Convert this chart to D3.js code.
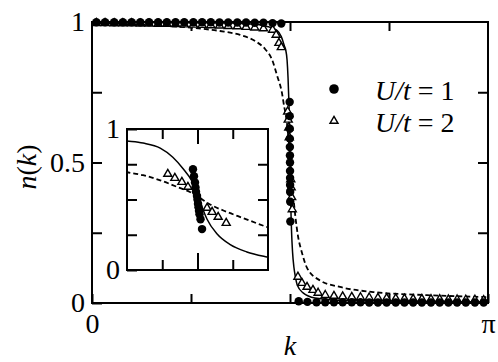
<!DOCTYPE html>
<html>
<head>
<meta charset="utf-8">
<title>n(k)</title>
<script src="https://d3js.org/d3.v7.min.js"></script>
<style>
  body { margin: 0; background: #fff; }
  svg text { font-family: "Liberation Serif", "Times New Roman", Times, Tinos, "Noto Serif", "DejaVu Serif", FreeSerif, serif; }
</style>
</head>
<body>
<svg width="498" height="362"></svg>
<script>

// k is in units of pi, n(k) is the occupation
var u1Points = [ // filled circles, U/t = 1
  [0.011, 0.999], [0.033, 0.999], [0.056, 0.999], [0.078, 0.999], [0.100, 0.999],
  [0.122, 0.999], [0.144, 0.999], [0.167, 0.999], [0.189, 0.999], [0.211, 0.999],
  [0.233, 0.999], [0.256, 0.999], [0.278, 0.999], [0.300, 0.999], [0.322, 0.998],
  [0.344, 0.998], [0.367, 0.998], [0.389, 0.998], [0.411, 0.997], [0.433, 0.997],
  [0.456, 0.996], [0.478, 0.995],
  [0.4991, 0.715], [0.4993, 0.665], [0.4995, 0.62], [0.4996, 0.585], [0.4997, 0.555],
  [0.4999, 0.525], [0.5000, 0.50], [0.5001, 0.47], [0.5002, 0.445], [0.5003, 0.42],
  [0.5004, 0.395], [0.5006, 0.36], [0.5009, 0.29],
  [0.522, 0.006], [0.544, 0.004], [0.567, 0.003], [0.589, 0.003], [0.611, 0.003],
  [0.633, 0.003], [0.656, 0.003], [0.678, 0.003], [0.700, 0.002], [0.722, 0.002],
  [0.744, 0.002], [0.767, 0.002], [0.789, 0.002], [0.811, 0.002], [0.833, 0.002],
  [0.856, 0.002], [0.878, 0.002], [0.900, 0.002], [0.922, 0.002], [0.944, 0.002],
  [0.967, 0.002], [0.989, 0.002]
];

var u2Points = [ // open triangles, U/t = 2
  [0.011, 0.996], [0.033, 0.996], [0.056, 0.995], [0.078, 0.995], [0.100, 0.995],
  [0.122, 0.994], [0.144, 0.994], [0.167, 0.993], [0.189, 0.993], [0.211, 0.992],
  [0.233, 0.991], [0.256, 0.990], [0.278, 0.989], [0.300, 0.988], [0.322, 0.987],
  [0.344, 0.985], [0.367, 0.984], [0.389, 0.982], [0.411, 0.980], [0.433, 0.977],
  [0.456, 0.972], [0.465, 0.954], [0.472, 0.925], [0.478, 0.910],
  [0.4941, 0.681], [0.4955, 0.652], [0.4969, 0.624], [0.4981, 0.589],
  [0.5019, 0.440], [0.5029, 0.411], [0.5041, 0.376], [0.5057, 0.333],
  [0.520, 0.093], [0.530, 0.071], [0.543, 0.057], [0.558, 0.046], [0.571, 0.036],
  [0.589, 0.028], [0.611, 0.025], [0.633, 0.023], [0.656, 0.021], [0.678, 0.020],
  [0.700, 0.019], [0.722, 0.018], [0.744, 0.017], [0.767, 0.016], [0.789, 0.015],
  [0.811, 0.014], [0.833, 0.014], [0.856, 0.013], [0.878, 0.013], [0.900, 0.012],
  [0.922, 0.012], [0.944, 0.011], [0.967, 0.011], [0.989, 0.010]
];

var solidLine = [
  [0, 0.998], [0.30, 0.997], [0.40, 0.993], [0.44, 0.985], [0.467, 0.970],
  [0.478, 0.948], [0.4858, 0.915], [0.4892, 0.90], [0.4926, 0.865], [0.4951, 0.80],
  [0.4971, 0.72], [0.4989, 0.63], [0.4999, 0.55], [0.5009, 0.447], [0.5019, 0.36],
  [0.5039, 0.255], [0.5065, 0.18], [0.5098, 0.128], [0.5138, 0.092], [0.518, 0.065],
  [0.533, 0.036], [0.563, 0.018], [0.652, 0.008], [1, 0.004]
];

var dashedLine = [
  [0, 0.996], [0.146, 0.989], [0.255, 0.979], [0.323, 0.968], [0.374, 0.954],
  [0.412, 0.932], [0.437, 0.904], [0.455, 0.865], [0.467, 0.811], [0.4798, 0.747],
  [0.4858, 0.695], [0.4892, 0.672], [0.4926, 0.636], [0.4959, 0.590], [0.4985, 0.553],
  [0.5001, 0.52], [0.5025, 0.465], [0.5059, 0.411], [0.5090, 0.369], [0.5138, 0.305],
  [0.520, 0.24], [0.530, 0.18], [0.543, 0.125], [0.576, 0.08], [0.626, 0.057],
  [0.710, 0.039], [0.846, 0.028], [1, 0.021]
];

var xTicks = [0, 0.25, 0.5, 0.75, 1];
var yTicks = [0, 0.25, 0.5, 0.75, 1];
var insetDomain = [0.486, 0.514];
var insetXTicks = [0.493, 0.5, 0.507];
var legendValues = ["1", "2"];

var config = {
  left: 92, right: 488, top: 22, bottom: 303,
  inset: { left: 127, right: 268, top: 129, bottom: 270 },
  font: 28,
  serif: '"Liberation Serif", "Times New Roman", Times, Tinos, "Noto Serif", "DejaVu Serif", FreeSerif, serif'
};

var svg = d3.select("svg");

var x = d3.scaleLinear().domain([0, 1]).range([config.left, config.right]);
var y = d3.scaleLinear().domain([0, 1]).range([config.bottom, config.top]);

var xi = d3.scaleLinear().domain(insetDomain).range([config.inset.left, config.inset.right]);
var yi = d3.scaleLinear().domain([0, 1]).range([config.inset.bottom, config.inset.top]);

var circleSym = d3.symbol().type(d3.symbolCircle).size(56);
var triSym = d3.symbol().type(d3.symbolTriangle).size(28);

function fixAxis(g) {
  g.select(".domain").remove();
  g.attr("font-size", config.font).attr("font-family", config.serif);
  g.selectAll(".tick line").attr("stroke", "#000").attr("stroke-width", 2);
  g.selectAll(".tick text").attr("fill", "#000").style("font-family", config.serif);
}

function drawSeries(g, xs, ys) {
  var line = d3.line()
    .x(function(d) { return xs(d[0]); })
    .y(function(d) { return ys(d[1]); })
    .curve(d3.curveMonotoneX);

  g.append("path").datum(dashedLine)
    .attr("d", line).attr("fill", "none").attr("stroke", "#000")
    .attr("stroke-width", 1.8).attr("stroke-dasharray", "5,3");

  g.append("path").datum(solidLine)
    .attr("d", line).attr("fill", "none").attr("stroke", "#000")
    .attr("stroke-width", 1.5);

  g.selectAll(".t").data(u2Points).enter().append("path")
    .attr("transform", function(d) { return "translate(" + xs(d[0]) + "," + ys(d[1]) + ")"; })
    .attr("d", triSym).attr("fill", "#fff").attr("stroke", "#000").attr("stroke-width", 1.4);

  g.selectAll(".c").data(u1Points).enter().append("path")
    .attr("transform", function(d) { return "translate(" + xs(d[0]) + "," + ys(d[1]) + ")"; })
    .attr("d", circleSym).attr("fill", "#000");
}

// main frame
svg.append("rect")
  .attr("x", config.left).attr("y", config.top)
  .attr("width", config.right - config.left).attr("height", config.bottom - config.top)
  .attr("fill", "none").attr("stroke", "#000").attr("stroke-width", 2);

// main axes (ticks point inward)
svg.append("g").attr("transform", "translate(" + config.left + ",0)")
  .call(d3.axisLeft(y).tickValues(yTicks).tickSizeInner(-10).tickSizeOuter(0).tickPadding(7)
    .tickFormat(function(d) { return (d === 0.25 || d === 0.75) ? "" : String(d); }))
  .call(fixAxis);

svg.append("g").attr("transform", "translate(" + config.right + ",0)")
  .call(d3.axisRight(y).tickValues([0.25, 0.5, 0.75]).tickSizeInner(-10).tickSizeOuter(0).tickFormat(""))
  .call(fixAxis);

svg.append("g").attr("transform", "translate(0," + config.top + ")")
  .call(d3.axisTop(x).tickValues([0.25, 0.5, 0.75]).tickSizeInner(-9).tickSizeOuter(0).tickFormat(""))
  .call(fixAxis);

svg.append("g").attr("transform", "translate(0," + config.bottom + ")")
  .call(d3.axisBottom(x).tickValues(xTicks).tickSizeInner(-9).tickSizeOuter(0).tickPadding(10)
    .tickFormat(function(d) { return d === 0 ? "0" : d === 1 ? "\u03c0" : ""; }))
  .call(fixAxis);

// axis titles
svg.append("text")
  .attr("x", x(0.5)).attr("y", 355)
  .attr("text-anchor", "middle").attr("font-size", config.font).attr("font-style", "italic")
  .text("k");

var yl = svg.append("text")
  .attr("transform", "translate(36,167) rotate(-90)")
  .attr("text-anchor", "middle").attr("font-size", config.font);
yl.append("tspan").attr("font-style", "italic").text("n");
yl.append("tspan").text("(");
yl.append("tspan").attr("font-style", "italic").text("k");
yl.append("tspan").text(")");

// main data
drawSeries(svg.append("g"), x, y);

// legend
var legend = svg.append("g");
legendValues.forEach(function(v, i) {
  var ly = 89 + i * 32;
  legend.append("path")
    .attr("transform", "translate(334," + ly + ")")
    .attr("d", i === 0 ? d3.symbol().type(d3.symbolCircle).size(72)() : triSym())
    .attr("fill", i === 0 ? "#000" : "#fff")
    .attr("stroke", i === 0 ? "none" : "#000").attr("stroke-width", 1.4);
  var t = legend.append("text").attr("x", 375).attr("y", ly + 11).attr("font-size", config.font);
  t.append("tspan").attr("font-style", "italic").text("U/t");
  t.append("tspan").text(" = " + v);
});

// inset
var inset = svg.append("g");
inset.append("rect")
  .attr("x", config.inset.left).attr("y", config.inset.top)
  .attr("width", config.inset.right - config.inset.left)
  .attr("height", config.inset.bottom - config.inset.top)
  .attr("fill", "#fff");

svg.append("clipPath").attr("id", "insetClip")
  .append("rect")
  .attr("x", config.inset.left).attr("y", config.inset.top)
  .attr("width", config.inset.right - config.inset.left)
  .attr("height", config.inset.bottom - config.inset.top);

drawSeries(inset.append("g").attr("clip-path", "url(#insetClip)"), xi, yi);

inset.append("rect")
  .attr("x", config.inset.left).attr("y", config.inset.top)
  .attr("width", config.inset.right - config.inset.left)
  .attr("height", config.inset.bottom - config.inset.top)
  .attr("fill", "none").attr("stroke", "#000").attr("stroke-width", 2);

inset.append("g").attr("transform", "translate(" + config.inset.left + ",0)")
  .call(d3.axisLeft(yi).tickValues(yTicks).tickSizeInner(-10).tickSizeOuter(0).tickPadding(7)
    .tickFormat(function(d) { return (d === 0 || d === 1) ? String(d) : ""; }))
  .call(fixAxis);

inset.append("g").attr("transform", "translate(" + config.inset.right + ",0)")
  .call(d3.axisRight(yi).tickValues([0.25, 0.5, 0.75]).tickSizeInner(-10).tickSizeOuter(0).tickFormat(""))
  .call(fixAxis);

inset.append("g").attr("transform", "translate(0," + config.inset.top + ")")
  .call(d3.axisTop(xi).tickValues(insetXTicks).tickSizeOuter(0).tickFormat(""))
  .call(fixAxis)
  .selectAll(".tick line").attr("y2", function(d) { return d === 0.5 ? 15 : 10; });

inset.append("g").attr("transform", "translate(0," + config.inset.bottom + ")")
  .call(d3.axisBottom(xi).tickValues(insetXTicks).tickSizeOuter(0).tickFormat(""))
  .call(fixAxis)
  .selectAll(".tick line").attr("y2", function(d) { return d === 0.5 ? -17 : -10; });

</script>
</body>
</html>
